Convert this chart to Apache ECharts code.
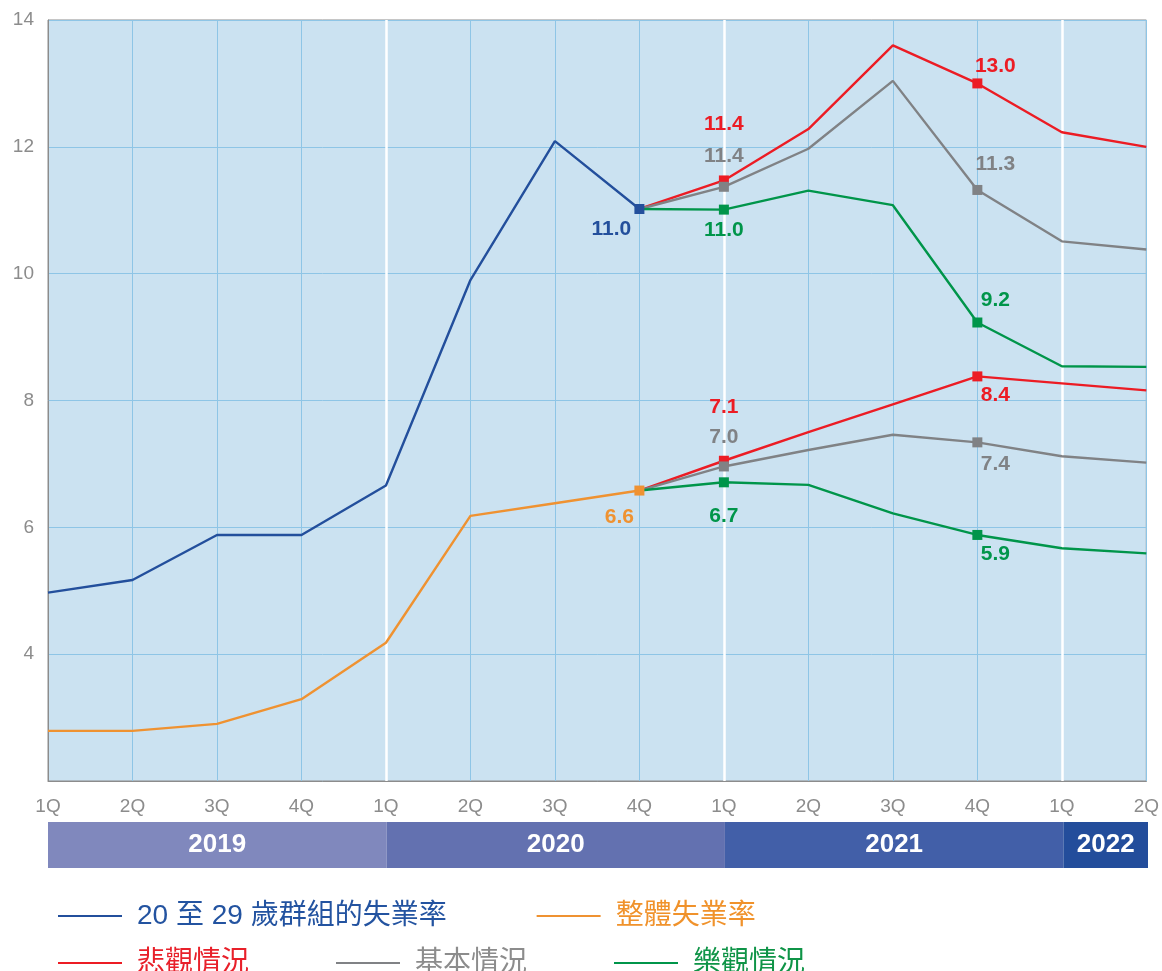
<!DOCTYPE html>
<html>
<head>
<meta charset="utf-8">
<script src="https://cdn.jsdelivr.net/npm/echarts@6/dist/echarts.min.js"></script>
<style>
  html, body { margin: 0; padding: 0; background: #fff; }
  #chart { width: 1162px; height: 971px; }
</style>
</head>
<body>
<div id="chart"></div>
<script>
// 季度
var quarters = ['1Q','2Q','3Q','4Q','1Q','2Q','3Q','4Q','1Q','2Q','3Q','4Q','1Q','2Q'];

// 年份色帶
var years = ['2019', '2020', '2021', '2022'];
var yearStart = [0, 4, 8, 12];
var yearEnd = [4, 8, 12, 13];
var yearColors = ['#8088bd', '#6371b0', '#425fa8', '#234d9b'];

// 實際數字
var youthRate = [4.97, 5.17, 5.88, 5.88, 6.66, 9.9, 12.09, 11.02];
var overallRate = [2.79, 2.79, 2.9, 3.29, 4.18, 6.18, 6.38, 6.58];

// 20至29歲 預測
var youthPess = ['-','-','-','-','-','-','-', 11.02, 11.47, 12.28, 13.6, 13.0, 12.23, 12.0];
var youthBase = ['-','-','-','-','-','-','-', 11.02, 11.37, 11.97, 13.04, 11.32, 10.51, 10.38];
var youthOpt  = ['-','-','-','-','-','-','-', 11.02, 11.01, 11.31, 11.08, 9.23, 8.54, 8.53];

// 整體 預測
var overallPess = ['-','-','-','-','-','-','-', 6.58, 7.05, 7.5, 7.94, 8.38, 8.27, 8.16];
var overallBase = ['-','-','-','-','-','-','-', 6.58, 6.96, 7.22, 7.46, 7.34, 7.12, 7.02];
var overallOpt  = ['-','-','-','-','-','-','-', 6.58, 6.71, 6.67, 6.22, 5.88, 5.67, 5.59];

// 標示點及數值
var actualMarkIdx = [7];
var youthLabels = ['11.0'];
var overallLabels = ['6.6'];
var forecastMarkIdx = [8, 11];
var youthPessLabels = ['11.4', '13.0'];
var youthBaseLabels = ['11.4', '11.3'];
var youthOptLabels = ['11.0', '9.2'];
var overallPessLabels = ['7.1', '8.4'];
var overallBaseLabels = ['7.0', '7.4'];
var overallOptLabels = ['6.7', '5.9'];

var youthName = '20 至 29 歲群組的失業率';

var C = {
  blue: '#234f9c', orange: '#ef9231', red: '#ec1c24', gray: '#808285', green: '#00954a'
};
var labelFont = 'Liberation Sans';
var cjkFont = "'Liberation Sans', 'Noto Sans CJK TC'";

// styles: [position, offset] per mark
function withMarks(values, idxs, texts, color, styles) {
  return values.map(function (v, i) {
    var k = idxs.indexOf(i);
    if (k < 0) return v;
    return {
      value: v,
      symbol: 'rect',
      symbolSize: 10,
      itemStyle: { color: color },
      label: {
        show: true,
        formatter: texts[k],
        position: styles[k][0],
        offset: styles[k][1],
        color: color,
        fontFamily: labelFont,
        fontWeight: 'bold',
        fontSize: 21
      }
    };
  });
}

function lineSeries(name, values, color, z) {
  return {
    name: name,
    type: 'line',
    data: values,
    symbol: 'none',
    z: z,
    lineStyle: { color: color, width: 2.4 },
    itemStyle: { color: color },
    emphasis: { disabled: true },
    animation: false
  };
}

var myChart = echarts.init(document.getElementById('chart'));

var sYouth = lineSeries(youthName,
  withMarks(youthRate, actualMarkIdx, youthLabels, C.blue, [['bottom', [-28, 0]]]), C.blue, 5);
// 年份分隔白線
sYouth.markLine = {
  silent: true,
  z: 1,
  symbol: 'none',
  label: { show: false },
  lineStyle: { color: '#ffffff', width: 2.5, type: 'solid' },
  data: yearStart.slice(1).map(function (i) { return { xAxis: i }; })
};

var legendCommon = {
  left: 58, itemWidth: 64, itemHeight: 2, icon: 'rect', padding: 0,
  selectedMode: false
};

var option = {
  backgroundColor: '#ffffff',
  textStyle: { fontFamily: cjkFont },
  grid: [
    { left: 48, right: 14, top: 20, bottom: 190, show: true,
      backgroundColor: '#cbe2f1', borderColor: '#8c8c8c', borderWidth: 1 },
    { left: 48, right: 14, top: 822, height: 46 }
  ],
  xAxis: [
    {
      type: 'category', data: quarters, boundaryGap: false, gridIndex: 0,
      axisLine: { lineStyle: { color: '#8c8c8c' } },
      axisTick: { show: false },
      axisLabel: { color: '#8c8c8c', fontSize: 19, fontFamily: labelFont, margin: 16 },
      splitLine: { show: true, lineStyle: { color: '#8ec5e6', width: 1 } }
    },
    { type: 'value', gridIndex: 1, min: 0, max: 13, show: false }
  ],
  yAxis: [
    {
      type: 'value', min: 2, max: 14, interval: 2, gridIndex: 0,
      axisLine: { show: true, lineStyle: { color: '#8c8c8c' } },
      axisTick: { show: false },
      axisLabel: { color: '#8c8c8c', fontSize: 19, fontFamily: labelFont, margin: 14, showMinLabel: false },
      splitLine: { show: true, lineStyle: { color: '#8ec5e6', width: 1 } }
    },
    { type: 'value', gridIndex: 1, min: 0, max: 1, show: false }
  ],
  legend: [
    Object.assign({}, legendCommon, {
      top: 902, itemGap: 90,
      textStyle: { fontSize: 28, padding: [0, 0, 0, 10], fontFamily: cjkFont },
      data: [
        { name: youthName, textStyle: { color: '#2353a0' } },
        { name: '整體失業率', textStyle: { color: '#f0922b' } }
      ]
    }),
    Object.assign({}, legendCommon, {
      top: 949, itemGap: 87,
      textStyle: { fontSize: 28, padding: [0, 0, 0, 10], fontFamily: cjkFont },
      data: [
        { name: '悲觀情況', textStyle: { color: '#e8202a' } },
        { name: '基本情況', textStyle: { color: '#8c8c8c' } },
        { name: '樂觀情況', textStyle: { color: '#0f9447' } }
      ]
    })
  ],
  series: [
    sYouth,
    lineSeries('悲觀情況', withMarks(youthPess, forecastMarkIdx, youthPessLabels, C.red,
      [['top', [0, -36]], ['top', [18, 3]]]), C.red, 3),
    lineSeries('基本情況', withMarks(youthBase, forecastMarkIdx, youthBaseLabels, C.gray,
      [['top', [0, -10]], ['top', [18, -5]]]), C.gray, 3),
    lineSeries('樂觀情況', withMarks(youthOpt, forecastMarkIdx, youthOptLabels, C.green,
      [['bottom', [0, 0]], ['top', [18, -2]]]), C.green, 3),
    lineSeries('悲觀情況', withMarks(overallPess, forecastMarkIdx, overallPessLabels, C.red,
      [['top', [0, -33]], ['bottom', [18, -2]]]), C.red, 3),
    lineSeries('基本情況', withMarks(overallBase, forecastMarkIdx, overallBaseLabels, C.gray,
      [['top', [0, -9]], ['bottom', [18, 1]]]), C.gray, 3),
    lineSeries('樂觀情況', withMarks(overallOpt, forecastMarkIdx, overallOptLabels, C.green,
      [['bottom', [0, 13]], ['bottom', [18, -1]]]), C.green, 3),
    lineSeries('整體失業率',
      withMarks(overallRate, actualMarkIdx, overallLabels, C.orange, [['bottom', [-20, 6]]]), C.orange, 5),
    {
      type: 'custom',
      xAxisIndex: 1,
      yAxisIndex: 1,
      silent: true,
      animation: false,
      data: years.map(function (y, i) { return [yearStart[i], yearEnd[i], i]; }),
      renderItem: function (params, api) {
        var i = api.value(2);
        var p0 = api.coord([api.value(0), 0]);
        var p1 = api.coord([api.value(1), 1]);
        return {
          type: 'group',
          children: [
            { type: 'rect',
              shape: { x: p0[0], y: p1[1], width: p1[0] - p0[0], height: p0[1] - p1[1] },
              style: { fill: yearColors[i] } },
            { type: 'text',
              style: { text: years[i], x: (p0[0] + p1[0]) / 2, y: (p0[1] + p1[1]) / 2,
                align: 'center', verticalAlign: 'middle', fill: '#ffffff',
                font: 'bold 26px ' + labelFont } }
          ]
        };
      }
    }
  ]
};

myChart.setOption(option);
</script>
</body>
</html>
